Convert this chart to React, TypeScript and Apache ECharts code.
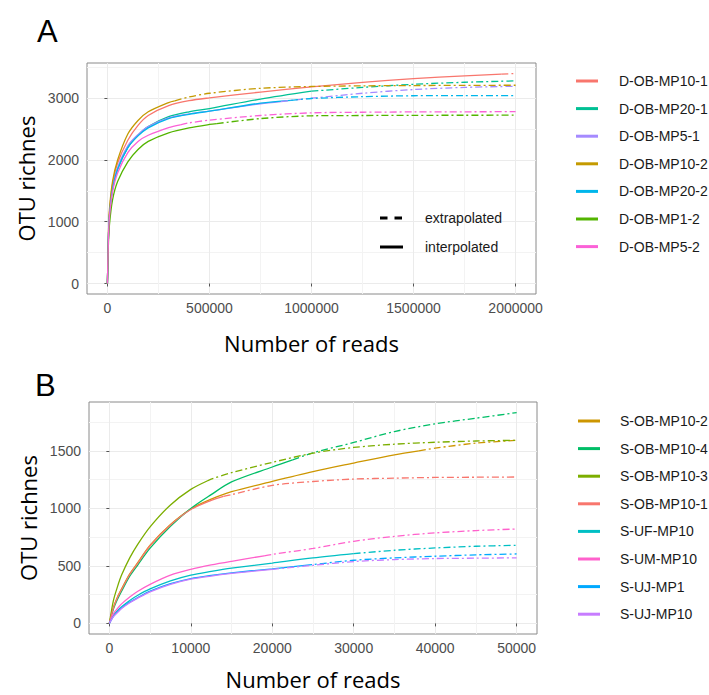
import React, { useEffect, useRef } from 'react';
import * as echarts from 'echarts';

// ---------- Panel A ----------
const readsA = [0, 5000, 10000, 25000, 50000, 100000, 150000, 200000, 300000, 400000, 500000, 750000, 1000000, 1250000, 1500000, 1750000, 2000000];
const namesA = ['D-OB-MP10-1', 'D-OB-MP20-1', 'D-OB-MP5-1', 'D-OB-MP10-2', 'D-OB-MP20-2', 'D-OB-MP1-2', 'D-OB-MP5-2'];
const colorsA = ['#F8766D', '#00C094', '#A58AFF', '#C49A00', '#00B6EB', '#53B400', '#FB61D7'];
const observedReadsA = [1930000, 1000000, 850000, 330000, 900000, 536000, 357000];
const observedOtuA = [3389, 3113, 2946, 2957, 2965, 2589, 2570];
const otuD_MP10_1 = [0, 770, 1150, 1600, 1950, 2320, 2560, 2720, 2880, 2960, 3005, 3100, 3183, 3255, 3317, 3362, 3400];
const otuD_MP20_1 = [0, 740, 1100, 1530, 1850, 2200, 2400, 2540, 2700, 2780, 2833, 2985, 3113, 3175, 3225, 3258, 3280];
const otuD_MP5_1 = [0, 750, 1120, 1550, 1880, 2230, 2410, 2540, 2680, 2745, 2790, 2910, 3000, 3080, 3140, 3175, 3194];
const otuD_MP10_2 = [0, 800, 1200, 1650, 2000, 2420, 2640, 2780, 2930, 3020, 3080, 3160, 3190, 3200, 3205, 3208, 3210];
const otuD_MP20_2 = [0, 740, 1100, 1520, 1850, 2200, 2390, 2520, 2670, 2740, 2790, 2920, 2995, 3025, 3040, 3042, 3043];
const otuD_MP1_2 = [0, 640, 950, 1350, 1650, 1970, 2170, 2300, 2440, 2520, 2575, 2670, 2715, 2720, 2723, 2724, 2725];
const otuD_MP5_2 = [0, 720, 1080, 1480, 1790, 2120, 2300, 2400, 2525, 2600, 2645, 2720, 2763, 2773, 2778, 2780, 2782];
const valuesA = [otuD_MP10_1, otuD_MP20_1, otuD_MP5_1, otuD_MP10_2, otuD_MP20_2, otuD_MP1_2, otuD_MP5_2];
const xTicksA = [0, 500000, 1000000, 1500000, 2000000];
const yTicksA = [0, 1000, 2000, 3000];

// ---------- Panel B ----------
const readsB = [0, 500, 1000, 1500, 2500, 3500, 5000, 7500, 10000, 12500, 15000, 20000, 25000, 30000, 35000, 40000, 45000, 50000];
const namesB = ['S-OB-MP10-2', 'S-OB-MP10-4', 'S-OB-MP10-3', 'S-OB-MP10-1', 'S-UF-MP10', 'S-UM-MP10', 'S-UJ-MP1', 'S-UJ-MP10'];
const colorsB = ['#CD9600', '#00BE67', '#7CAE00', '#F8766D', '#00BFC4', '#FF61CC', '#00A9FF', '#C77CFF'];
const observedReadsB = [38000, 22500, 12000, 14000, 30000, 19000, 24000, 20000];
const observedOtuB = [1501, 1422, 1238, 1105, 607, 588, 505, 470];
const otuS_MP10_2 = [0, 140, 230, 300, 430, 530, 680, 860, 995, 1080, 1145, 1235, 1320, 1394, 1466, 1524, 1567, 1592];
const otuS_MP10_4 = [0, 125, 210, 280, 410, 510, 655, 845, 1000, 1120, 1230, 1360, 1483, 1573, 1668, 1735, 1784, 1833];
const otuS_MP10_3 = [0, 200, 320, 420, 570, 690, 840, 1030, 1165, 1255, 1310, 1400, 1480, 1530, 1558, 1575, 1586, 1592];
const otuS_MP10_1 = [0, 135, 225, 295, 425, 525, 675, 855, 990, 1070, 1120, 1200, 1234, 1255, 1263, 1269, 1271, 1273];
const otuS_UF_MP10 = [0, 70, 110, 145, 200, 245, 300, 370, 420, 452, 480, 525, 570, 607, 636, 656, 671, 679];
const otuS_UM_MP10 = [0, 85, 130, 170, 230, 280, 340, 420, 470, 508, 540, 600, 652, 714, 757, 787, 807, 821];
const otuS_UJ_MP1 = [0, 62, 100, 135, 185, 225, 280, 345, 390, 418, 440, 475, 512, 549, 570, 584, 596, 604];
const otuS_UJ_MP10 = [0, 60, 95, 130, 180, 220, 275, 340, 385, 412, 435, 470, 505, 538, 555, 564, 567, 570];
const valuesB = [otuS_MP10_2, otuS_MP10_4, otuS_MP10_3, otuS_MP10_1, otuS_UF_MP10, otuS_UM_MP10, otuS_UJ_MP1, otuS_UJ_MP10];
const xTicksB = [0, 10000, 20000, 30000, 40000, 50000];
const yTicksB = [0, 500, 1000, 1500];

const FONT = 'Liberation Sans, Arial, sans-serif';
const TITLE_FONT = 'Open Sans, Liberation Sans, sans-serif';
const DASH = [7, 3, 2, 3];

function splitCurve(reads: number[], vals: number[], obsX: number, obsY: number) {
  const solid: number[][] = [];
  const extra: number[][] = [];
  reads.forEach((x, i) => {
    if (x < obsX) solid.push([x, vals[i]]);
  });
  solid.push([obsX, obsY]);
  extra.push([obsX, obsY]);
  reads.forEach((x, i) => {
    if (x > obsX) extra.push([x, vals[i]]);
  });
  return { solid, extra };
}

function buildSeries(names: string[], colors: string[], reads: number[], values: number[][], obsX: number[], obsY: number[], axisIndex: number) {
  const solids: any[] = [];
  const extras: any[] = [];
  names.forEach((name, i) => {
    const { solid, extra } = splitCurve(reads, values[i], obsX[i], obsY[i]);
    const common = {
      type: 'line',
      name,
      xAxisIndex: axisIndex,
      yAxisIndex: axisIndex,
      showSymbol: false,
      symbol: 'none',
      smooth: 0.3,
      color: colors[i],
      silent: true,
      z: 3,
    };
    solids.push({ ...common, data: solid, lineStyle: { width: 1.3, color: colors[i], type: 'solid' } });
    if (extra.length > 1) {
      extras.push({ ...common, data: extra, lineStyle: { width: 1.3, color: colors[i], type: DASH } });
    }
  });
  return [...solids, ...extras];
}

function xAxis(gridIndex: number, min: number, max: number, ticks: number[], step: number, gap: number) {
  return {
    type: 'value',
    gridIndex,
    min,
    max,
    splitNumber: 5,
    name: 'Number of reads',
    nameLocation: 'middle',
    nameGap: gap,
    nameTextStyle: { fontSize: 22, color: '#000', fontFamily: TITLE_FONT },
    axisLine: { show: false },
    axisTick: { show: true, length: 3, lineStyle: { color: '#555' }, customValues: ticks },
    axisLabel: {
      customValues: ticks,
      margin: 7,
      fontSize: 14,
      color: '#4D4D4D',
      fontFamily: FONT,
      formatter: (v: number) => (v % step === 0 ? String(v) : ''),
    },
    splitLine: { show: true, lineStyle: { color: '#EBEBEB', width: 1 } },
    minorTick: { show: false, splitNumber: 2 },
    minorSplitLine: { show: true, lineStyle: { color: '#F3F3F3', width: 1 } },
  };
}

function yAxis(gridIndex: number, min: number, max: number, ticks: number[], step: number) {
  return {
    type: 'value',
    gridIndex,
    min,
    max,
    splitNumber: 5,
    name: 'OTU richnes',
    nameLocation: 'middle',
    nameGap: 48,
    nameTextStyle: { fontSize: 22, color: '#000', fontFamily: TITLE_FONT },
    axisLine: { show: false },
    axisTick: { show: true, length: 3, lineStyle: { color: '#555' }, customValues: ticks },
    axisLabel: {
      customValues: ticks,
      margin: 8,
      fontSize: 14,
      color: '#4D4D4D',
      fontFamily: FONT,
      formatter: (v: number) => (v % step === 0 ? String(v) : ''),
    },
    splitLine: { show: true, lineStyle: { color: '#EBEBEB', width: 1 } },
    minorTick: { show: false, splitNumber: 2 },
    minorSplitLine: { show: true, lineStyle: { color: '#F3F3F3', width: 1 } },
  };
}

function legend(names: string[], left: number, top: number, padLeft: number) {
  return {
    data: names,
    orient: 'vertical',
    left,
    top,
    icon: 'rect',
    itemWidth: 22,
    itemHeight: 3,
    itemGap: 11.6,
    selectedMode: false,
    itemStyle: { borderWidth: 0 },
    textStyle: { fontSize: 14, lineHeight: 16, color: '#1A1A1A', fontFamily: FONT, padding: [0, 0, 0, padLeft] },
  };
}

export default function App() {
  const ref = useRef<HTMLDivElement>(null);
  useEffect(() => {
    document.body.style.margin = '0';
    if (!ref.current) return;
    const chart = echarts.init(ref.current, undefined, { renderer: 'svg' });
    const option: any = {
      animation: false,
      backgroundColor: '#ffffff',
      grid: [
        { left: 87, top: 63, width: 449, height: 231, show: true, borderColor: '#8A8A8A', borderWidth: 1, backgroundColor: '#fff', containLabel: false },
        { left: 89, top: 402, width: 448, height: 232, show: true, borderColor: '#8A8A8A', borderWidth: 1, backgroundColor: '#fff', containLabel: false },
      ],
      xAxis: [xAxis(0, -100000, 2100000, xTicksA, 500000, 38), xAxis(1, -2500, 52500, xTicksB, 10000, 34)],
      yAxis: [yAxis(0, -170, 3570, yTicksA, 1000), yAxis(1, -92, 1925, yTicksB, 500)],
      legend: [legend(namesA, 571, 68, 16), legend(namesB, 573, 408, 15)],
      series: [
        ...buildSeries(namesA, colorsA, readsA, valuesA, observedReadsA, observedOtuA, 0),
        ...buildSeries(namesB, colorsB, readsB, valuesB, observedReadsB, observedOtuB, 1),
      ],
      graphic: [
        { type: 'text', left: 37, top: 16, style: { text: 'A', fontSize: 31, fill: '#000', fontFamily: FONT } },
        { type: 'text', left: 35, top: 370, style: { text: 'B', fontSize: 31, fill: '#000', fontFamily: FONT } },
        { type: 'line', shape: { x1: 380, y1: 218, x2: 403, y2: 218 }, style: { stroke: '#000', lineWidth: 3, lineDash: [7.5, 7] }, z: 10 },
        { type: 'line', shape: { x1: 380, y1: 247, x2: 403, y2: 247 }, style: { stroke: '#000', lineWidth: 3 }, z: 10 },
        { type: 'text', x: 425, y: 218, style: { text: 'extrapolated', fontSize: 14, fill: '#1A1A1A', fontFamily: FONT, verticalAlign: 'middle' }, z: 10 },
        { type: 'text', x: 425, y: 247, style: { text: 'interpolated', fontSize: 14, fill: '#1A1A1A', fontFamily: FONT, verticalAlign: 'middle' }, z: 10 },
      ],
    };
    chart.setOption(option);
    return () => chart.dispose();
  }, []);
  return <div ref={ref} style={{ width: 709, height: 695 }} />;
}
